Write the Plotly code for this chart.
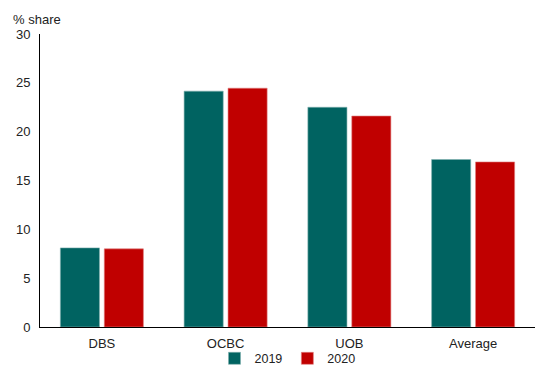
import plotly.graph_objects as go

categories = ["DBS", "OCBC", "UOB", "Average"]
values_2019 = [8.1, 24.15, 22.5, 17.15]
values_2020 = [8.0, 24.45, 21.6, 16.9]
y_ticks = [0, 5, 10, 15, 20, 25, 30]

fig = go.Figure()
fig.add_trace(go.Bar(name="2019", x=categories, y=values_2019,
                     marker=dict(color="#006361", line=dict(color="#7fb0ae", width=0.6))))
fig.add_trace(go.Bar(name="2020", x=categories, y=values_2020,
                     marker=dict(color="#C00000", line=dict(color="#e08080", width=0.6))))

fig.update_layout(
    width=535, height=365,
    margin=dict(l=40, r=0, t=34, b=38, autoexpand=False),
    paper_bgcolor="white", plot_bgcolor="white",
    font=dict(family="Liberation Sans, Arial, sans-serif", size=13, color="#222"),
    barmode="group", bargap=0.29, bargroupgap=0.11,
    showlegend=True,
    legend=dict(orientation="h", x=0.5, xanchor="center", y=-0.057, yanchor="top",
                font=dict(size=12.5), itemwidth=30, tracegroupgap=0,
                bgcolor="rgba(0,0,0,0)", valign="middle"),
    xaxis=dict(showline=True, linecolor="black", linewidth=1, ticks="",
               tickfont=dict(size=13), showgrid=False, ticklabelstandoff=4),
    yaxis=dict(range=[0, 30], tickvals=y_ticks, showline=True, linecolor="black",
               linewidth=1, ticks="", showgrid=False, zeroline=False,
               tickfont=dict(size=13), ticklabelstandoff=6),
    annotations=[dict(text="% share", xref="paper", yref="paper", x=-0.058, y=1.0,
                      xanchor="left", yanchor="bottom", yshift=5, showarrow=False,
                      font=dict(size=13))],
)
fig.write_html("out.html")
